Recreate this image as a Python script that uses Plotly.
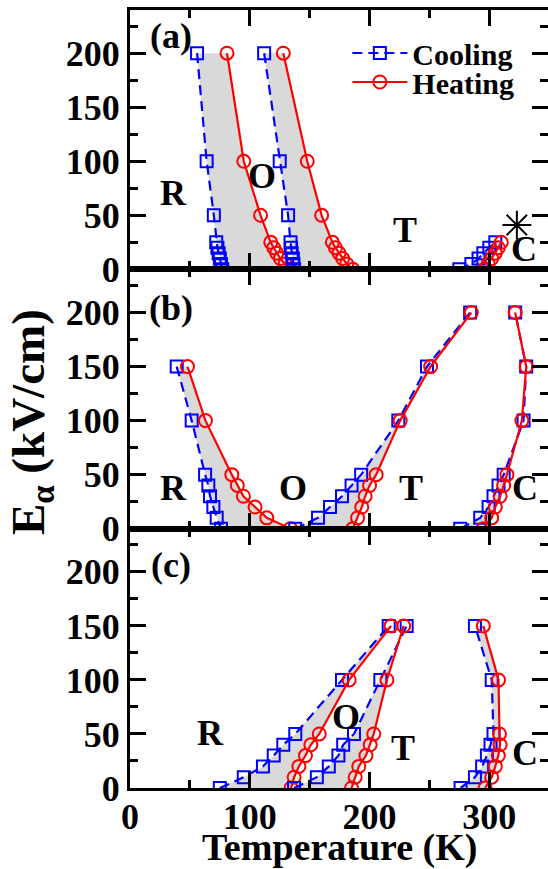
import plotly.graph_objects as go

# ---------------- data ----------------
# Panel (a)
a_E = [200, 100, 50, 25, 20, 15, 10, 5, 0]
a_cool_RO = [56, 64, 70, 72, 73, 74, 75, 76, 77]
a_heat_RO = [81, 95, 109, 117.5, 120, 122.5, 125.5, 129.5, 134]
a_cool_OT = [112, 125, 132, 134, 134.5, 135, 136, 136.5, 137]
a_heat_OT = [128, 148, 160, 169, 171.5, 174.5, 177.5, 181, 186]
a_E_TC = [0, 5, 10, 15, 20, 25]
a_cool_TC = [275, 285, 291, 295, 300, 305]
a_heat_TC = [296, 299, 302, 305, 307.5, 310]
a_star_T = [323]
a_star_E = [41]

# Panel (b)
b_E_RO = [150, 100, 50, 40, 30, 20, 10, 0]
b_cool_RO = [39, 51.5, 62.7, 65.4, 66.8, 69.6, 72.4, 76]
b_heat_RO = [48, 63, 85, 89.6, 94.7, 104.4, 114.2, 134]
b_E = [0, 10, 20, 30, 40, 50, 100, 150, 200]
b_cool_OT = [138, 157, 167, 177, 185, 193, 224, 248, 284]
b_heat_OT = [186, 190, 193.5, 196.3, 200, 205.5, 225.6, 251, 285]
b_cool_TC = [275.7, 292.4, 299.4, 303.5, 307.7, 312, 328.6, 330.8, 321.6]
b_heat_TC = [295, 302, 305, 309, 312, 314.7, 327.2, 330.8, 321.6]

# Panel (c)
c_E = [0, 10, 20, 30, 40, 50, 100, 150]
c_cool_RO = [75, 95, 111, 120, 128, 138, 177, 216]
c_heat_RO = [134.5, 137, 141, 146.5, 151, 158, 183, 218]
c_cool_OT = [137, 156, 166, 174, 178, 187, 209, 231]
c_heat_OT = [185, 188, 191, 197, 200.5, 203.5, 214.5, 228.5]
c_cool_TC = [276, 288, 294, 298, 301, 303.5, 302, 288]
c_heat_TC = [296.5, 302, 305, 307.5, 309, 308.5, 307.7, 295]

x_ticks = [0, 100, 200, 300]
x_minor = [50, 150, 250, 350]
y_ticks = [0, 50, 100, 150, 200]
y_minor = [25, 75, 125, 175, 225]

panel_labels = ["(a)", "(b)", "(c)"]
panel_label_pos = [(34, 216), (34, 204), (34, 206)]
phase_labels = {
    1: [("R", 36, 71), ("O", 110, 86), ("T", 230, 36), ("C", 329, 19)],
    2: [("R", 36, 38), ("O", 136, 38), ("T", 235, 38), ("C", 330, 38)],
    3: [("R", 67, 51), ("O", 180, 66), ("T", 228, 37), ("C", 330, 32)],
}

# branches: (cooling T, heating T, cooling E, heating E)
panels = {
    1: [(a_cool_RO, a_heat_RO, a_E, a_E),
        (a_cool_OT, a_heat_OT, a_E, a_E),
        (a_cool_TC, a_heat_TC, a_E_TC, a_E_TC)],
    2: [(b_cool_RO, b_heat_RO, b_E_RO, b_E_RO),
        (b_cool_OT, b_heat_OT, b_E, b_E),
        (b_cool_TC, b_heat_TC, b_E, b_E)],
    3: [(c_cool_RO, c_heat_RO, c_E, c_E),
        (c_cool_OT, c_heat_OT, c_E, c_E),
        (c_cool_TC, c_heat_TC, c_E, c_E)],
}

BLUE = "#0000ff"
RED = "#ff0000"
GRAY = "#d9d9d9"
FONT = "Liberation Serif"

fig = go.Figure()

# gray fills
for p, branches in panels.items():
    xa, ya = ("x" if p == 1 else f"x{p}"), ("y" if p == 1 else f"y{p}")
    for cT, hT, cE, hE in branches:
        fig.add_trace(go.Scatter(
            x=list(cT) + list(hT)[::-1], y=list(cE) + list(hE)[::-1],
            fill="toself", fillcolor=GRAY, mode="none", line=dict(width=0),
            showlegend=False, hoverinfo="skip", xaxis=xa, yaxis=ya))

# lines & markers
first_c, first_h = True, True
for p, branches in panels.items():
    xa, ya = ("x" if p == 1 else f"x{p}"), ("y" if p == 1 else f"y{p}")
    for cT, hT, cE, hE in branches:
        fig.add_trace(go.Scatter(
            x=cT, y=cE, mode="lines+markers", name="Cooling",
            line=dict(color=BLUE, width=2.2, dash="10px,6px"),
            marker=dict(symbol="square-open", size=12, color=BLUE, line=dict(width=2, color=BLUE)),
            showlegend=first_c, legend="legend", xaxis=xa, yaxis=ya))
        first_c = False
        fig.add_trace(go.Scatter(
            x=hT, y=hE, mode="lines+markers", name="Heating",
            line=dict(color=RED, width=2.2),
            marker=dict(symbol="circle-open", size=13, color=RED, line=dict(width=2, color=RED)),
            showlegend=first_h, legend="legend2", xaxis=xa, yaxis=ya))
        first_h = False

fig.add_trace(go.Scatter(
    x=a_star_T, y=a_star_E, mode="markers",
    marker=dict(symbol="asterisk-open", size=24, color="black", line=dict(width=2, color="black")),
    showlegend=False, xaxis="x", yaxis="y"))

# axes
doms = {1: [2/3, 1.0], 2: [1/3, 2/3], 3: [0.0, 1/3]}
tickfont = dict(family=FONT, size=36, color="black", weight="bold")
for p in (1, 2, 3):
    xk = "xaxis" if p == 1 else f"xaxis{p}"
    yk = "yaxis" if p == 1 else f"yaxis{p}"
    ya = "y" if p == 1 else f"y{p}"
    xa = "x" if p == 1 else f"x{p}"
    fig.layout[xk] = dict(
        range=[0, 349], domain=[0, 1], anchor=ya, automargin=False,
        showline=True, linecolor="black", linewidth=3, mirror="allticks",
        ticks="inside", ticklen=16, tickwidth=2.5, tickcolor="black",
        tickvals=x_ticks, showticklabels=(p == 3), ticklabelstandoff=-5,
        tickfont=tickfont, showgrid=False, zeroline=False,
        minor=dict(tickvals=x_minor, ticks="inside", ticklen=8,
                   tickwidth=2.5, tickcolor="black", showgrid=False),
    )
    fig.layout[yk] = dict(
        range=[0, 240], domain=doms[p], anchor=xa, automargin=False,
        showline=True, linecolor="black", linewidth=3, mirror="allticks",
        ticks="inside", ticklen=16, tickwidth=2.5, tickcolor="black",
        tickvals=y_ticks, tickfont=tickfont,
        showgrid=False, zeroline=False,
        minor=dict(tickvals=y_minor, ticks="inside", ticklen=8,
                   tickwidth=2.5, tickcolor="black", showgrid=False),
    )

annotations = []
for p in (1, 2, 3):
    xr = "x" if p == 1 else f"x{p}"
    yr = "y" if p == 1 else f"y{p}"
    lx, ly = panel_label_pos[p - 1]
    annotations.append(dict(text=panel_labels[p - 1], x=lx, y=ly,
                            xref=xr, yref=yr, showarrow=False,
                            font=dict(family=FONT, size=36, color="black", weight="bold")))
    for txt, tx, ty in phase_labels[p]:
        annotations.append(dict(text=txt, x=tx, y=ty, xref=xr, yref=yr, showarrow=False,
                                font=dict(family=FONT, size=36, color="black", weight="bold")))
annotations.append(dict(text="E<sub>α</sub> (kV/cm)", x=-0.235, y=0.47, xref="paper", yref="paper",
                        textangle=-90, showarrow=False, xanchor="center", yanchor="middle",
                        font=dict(family=FONT, size=47, color="black", weight="bold")))
annotations.append(dict(text="Temperature (K)", x=0.5, y=-0.076, xref="paper", yref="paper",
                        showarrow=False, xanchor="center", yanchor="middle",
                        font=dict(family=FONT, size=38, color="black", weight="bold")))

legfont = dict(family=FONT, size=30, color="black", weight="bold")
fig.update_layout(
    width=548, height=869,
    margin=dict(l=130, r=0, t=10, b=81, autoexpand=False),
    paper_bgcolor="white", plot_bgcolor="white",
    annotations=annotations,
    legend=dict(x=0.52, y=(788 - 53) / 778, xanchor="left", yanchor="middle",
                font=legfont, bgcolor="rgba(0,0,0,0)", itemwidth=55, borderwidth=0),
    legend2=dict(x=0.52, y=(788 - 82) / 778, xanchor="left", yanchor="middle",
                 font=legfont, bgcolor="rgba(0,0,0,0)", itemwidth=55, borderwidth=0),
)

fig.write_html("out.html")
